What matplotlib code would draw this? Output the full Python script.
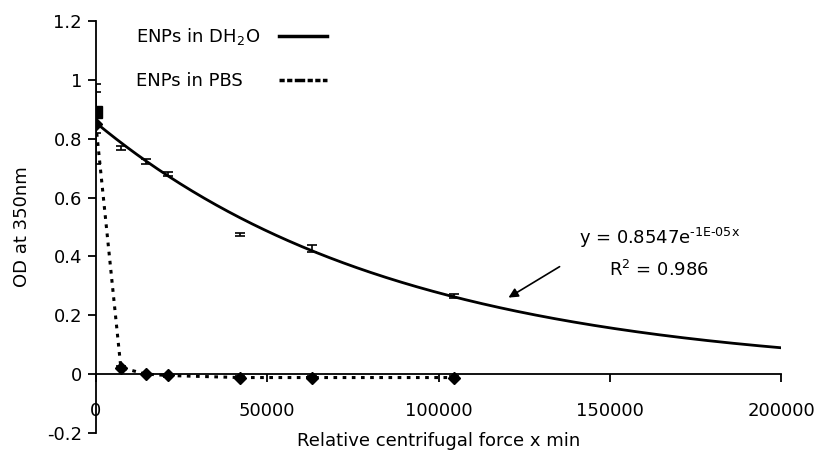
import numpy as np
import matplotlib
matplotlib.use('Agg')
import matplotlib.pyplot as plt
from matplotlib.lines import Line2D

plt.rcParams['font.family'] = 'DejaVu Sans'
plt.rcParams['mathtext.default'] = 'regular'

# Data
rcf_min = [0, 7300, 14500, 21000, 42000, 63000, 104500]
od_dh2o = [0.89, 0.768, 0.722, 0.680, 0.474, 0.428, 0.265]
err_dh2o = [0.07, 0.006, 0.009, 0.008, 0.005, 0.012, 0.006]
od_pbs = [0.85, 0.022, 0.0, -0.005, -0.012, -0.012, -0.012]
err_pbs = [0.135, 0.004, 0.004, 0.004, 0.004, 0.004, 0.004]

# exponential trendline coefficients (DH2O)
fit_a = 0.8547
fit_k = 1.13e-05
fit_x = np.linspace(0, 200000, 400)
fit_y = fit_a * np.exp(-fit_k * fit_x)

fig = plt.figure(figsize=(8.19, 4.59), dpi=100)
ax = fig.add_axes([0.117, 0.057, 0.837, 0.897])

# Trendline
ax.plot(fit_x, fit_y, color='black', lw=2, zorder=2)

# DH2O points: error bars, square marker only at x=0
ax.errorbar(rcf_min, od_dh2o, yerr=err_dh2o, fmt='none', ecolor='black',
            elinewidth=1.2, capsize=3.5, capthick=1.2, zorder=3)
ax.plot(rcf_min[:1], od_dh2o[:1], 's', color='black', ms=9, zorder=4)

# PBS series
ax.errorbar(rcf_min, od_pbs, yerr=err_pbs, fmt='none', ecolor='black',
            elinewidth=1.2, capsize=3.5, capthick=1.2, zorder=3)
ax.plot(rcf_min, od_pbs, color='black', lw=2.2, ls=(0, (1.2, 1.8)),
        marker='D', ms=6, zorder=4)

ax.set_xlim(0, 200000)
ax.set_ylim(-0.2, 1.2)
ax.set_xticks([0, 50000, 100000, 150000, 200000])
ax.set_xticklabels(['0', '50000', '100000', '150000', '200000'])
ax.set_yticks([-0.2, 0, 0.2, 0.4, 0.6, 0.8, 1, 1.2])
ax.set_yticklabels(['-0.2', '0', '0.2', '0.4', '0.6', '0.8', '1', '1.2'])

ax.spines['top'].set_visible(False)
ax.spines['right'].set_visible(False)
ax.spines['bottom'].set_position(('data', 0))
ax.spines['left'].set_linewidth(1.3)
ax.spines['bottom'].set_linewidth(1.3)
ax.tick_params(axis='both', direction='out', length=6, width=1.3,
               labelsize=13, colors='black')
ax.tick_params(axis='x', pad=14)
ax.tick_params(axis='y', pad=4)

ax.set_xlabel('Relative centrifugal force x min', fontsize=13, va='center')
ax.xaxis.set_label_coords(0.5, -0.019)
ax.set_ylabel('OD at 350nm', fontsize=13, va='center')
ax.yaxis.set_label_coords(-0.108, 0.5)

# Legend (labels left, lines right)
handles = [Line2D([], [], color='black', lw=2.5),
           Line2D([], [], color='black', lw=2.5, ls=(0, (1.5, 0.7, 1.5, 0.7, 3, 0.7)))]
leg = ax.legend(handles, ['ENPs in DH$_2$O', 'ENPs in PBS'], loc='upper left',
                bbox_to_anchor=(0.045, 1.01), frameon=False, markerfirst=False,
                fontsize=13, handlelength=2.65, handletextpad=0.9,
                labelspacing=1.4, borderpad=0)
# left-align the label texts while keeping the sample lines aligned on the right
for column in leg._legend_handle_box.get_children():
    column.align = 'left'
    for entry in column.get_children():
        entry.mode = 'expand'
        entry.width = 191

# Trendline annotation
ax.annotate('', xy=(119700, 0.255), xytext=(136000, 0.37),
            arrowprops=dict(arrowstyle='-|>', color='black', lw=1.2,
                            mutation_scale=14))
ax.text(164400, 0.461, r'y = 0.8547e$^{\text{-1E-05x}}$', fontsize=13,
        ha='center', va='center')
ax.text(164400, 0.353, 'R$^2$ = 0.986', fontsize=13, ha='center', va='center')

plt.savefig('out.png', dpi=100)
